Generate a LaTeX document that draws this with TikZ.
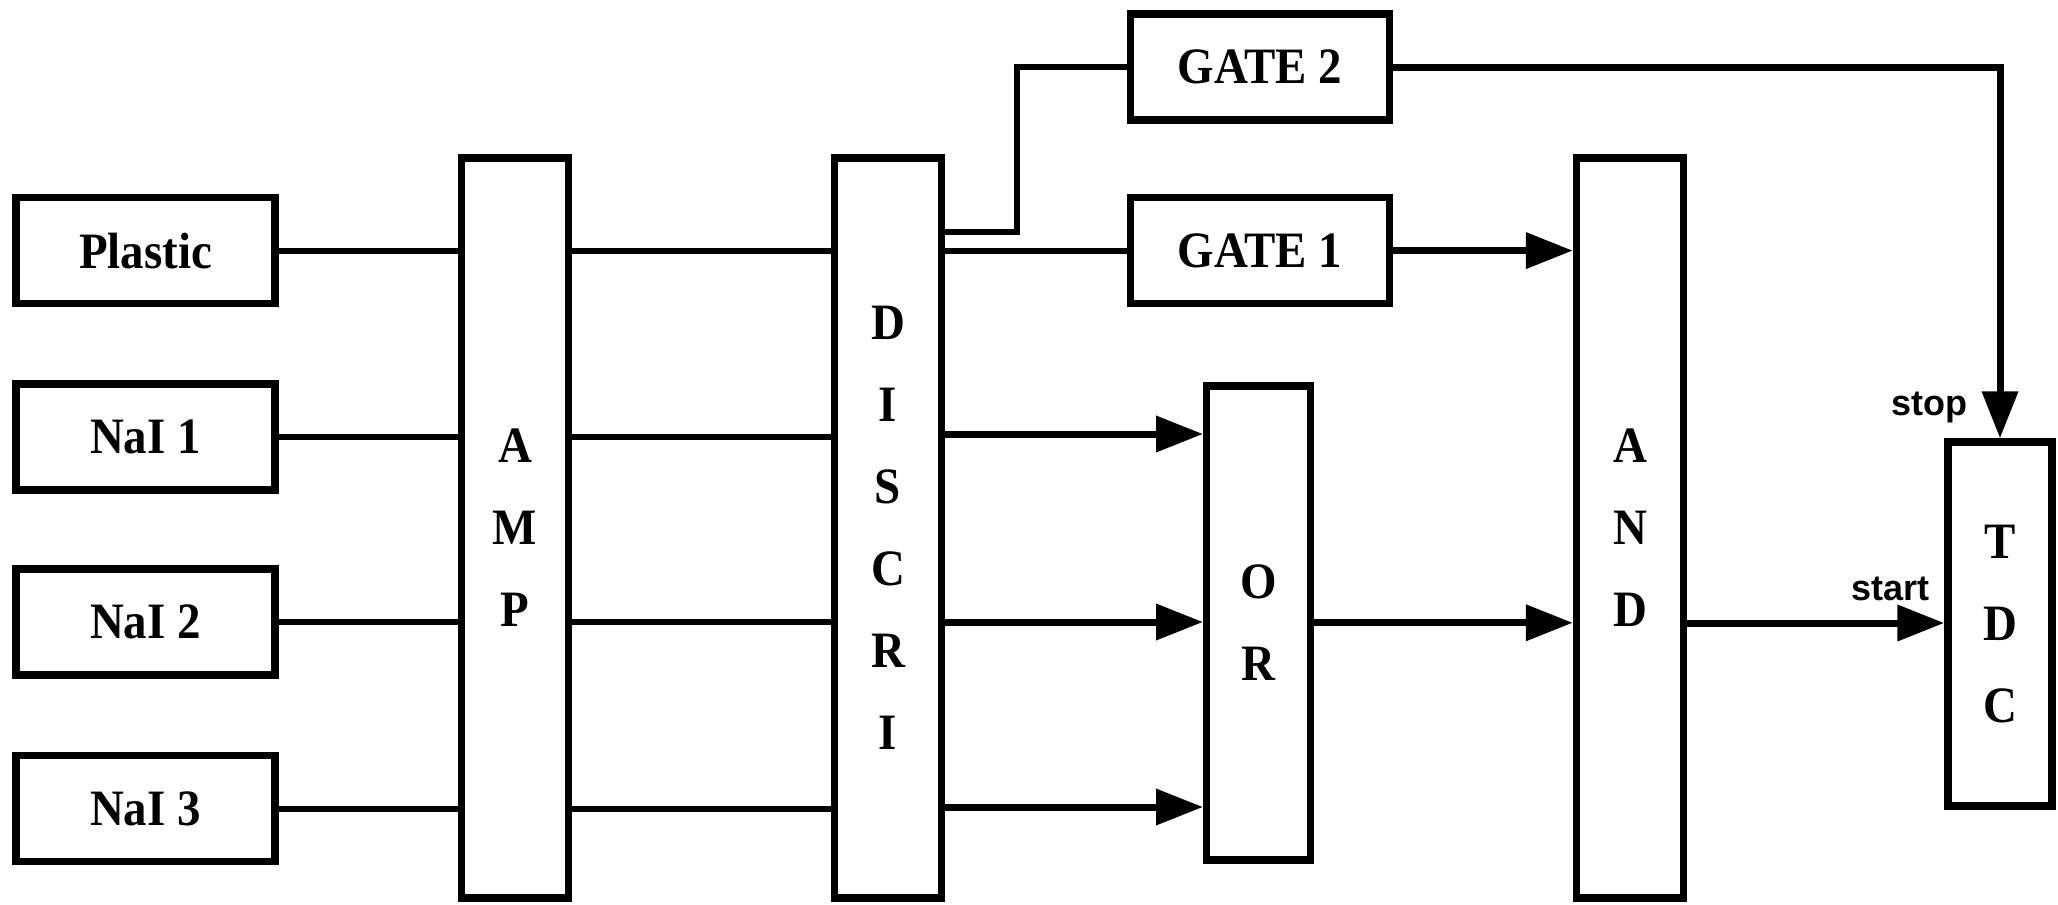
\documentclass[tikz,border=0pt]{standalone}
\usepackage{fontspec}
\setmainfont{Liberation Serif}[FakeStretch=0.92]
\newfontfamily\labelfont{Liberation Sans}
\usetikzlibrary{arrows.meta}
\begin{document}
\begin{tikzpicture}[x=0.5pt,y=-0.5pt,
  blk/.style={draw, line width=3.7pt, inner sep=0pt, align=center,
    font=\fontsize{25.5}{41}\selectfont\bfseries},
  hbox/.style={blk, minimum width=129.5pt, minimum height=53pt},
  vbox/.style={blk, minimum width=53.5pt},
  conn/.style={line width=3pt},
  arr/.style={line width=3.5pt, -{Triangle[length=23.5pt,width=17.5pt]}},
  lbl/.style={font=\labelfont\fontsize{18}{20}\selectfont\bfseries, inner sep=0pt}]
\useasboundingbox (0,0) rectangle (2058,905);
% left detectors
\node[hbox] (plastic) at (145.5,250.6) {Plastic};
\node[hbox] (nai1) at (145.5,437) {NaI 1};
\node[hbox] (nai2) at (145.5,622) {NaI 2};
\node[hbox] (nai3) at (145.5,808.5) {NaI 3};
% vertical modules
\node[vbox, minimum height=370pt] (amp) at (515,528) {A\\M\\P};
\node[vbox, minimum height=370pt] (discri) at (888,528) {D\\I\\S\\C\\R\\I};
\node[vbox, minimum width=52pt, minimum height=237pt] (or) at (1258.7,622.8) {O\\R};
\node[vbox, minimum height=370pt] (and) at (1630,528) {A\\N\\D};
\node[vbox, minimum width=52pt, minimum height=182pt] (tdc) at (2000,624) {T\\D\\C};
% gates
\node[hbox] (gate2) at (1260,67) {GATE 2};
\node[hbox] (gate1) at (1260,250.6) {GATE 1};
% detectors to AMP
\draw[conn] (plastic.east) -- (plastic.east -| amp.west);
\draw[conn] (nai1.east) -- (nai1.east -| amp.west);
\draw[conn] (nai2.east) -- (nai2.east -| amp.west);
\draw[conn] (nai3.east) -- (nai3.east -| amp.west);
% AMP to DISCRI
\draw[conn] (amp.east |- plastic.east) -- (discri.west |- plastic.east);
\draw[conn] (amp.east |- nai1.east) -- (discri.west |- nai1.east);
\draw[conn] (amp.east |- nai2.east) -- (discri.west |- nai2.east);
\draw[conn] (amp.east |- nai3.east) -- (discri.west |- nai3.east);
% DISCRI to gates
\coordinate (bend) at (1017,232);
\draw[conn] (discri.east |- bend) -- (bend) -- (bend |- gate2.west) -- (gate2.west);
\draw[conn] (discri.east |- gate1.west) -- (gate1.west);
% DISCRI to OR
\draw[arr] (discri.east |- 0,434) -- (or.west |- 0,434);
\draw[arr] (discri.east |- 0,622) -- (or.west |- 0,622);
\draw[arr] (discri.east |- 0,807) -- (or.west |- 0,807);
% to AND
\draw[arr] (gate1.east) -- (and.west |- gate1.east);
\draw[arr] (or.east) -- (and.west |- or.east);
% to TDC
\draw[arr] (and.east |- 0,623) -- (tdc.west |- 0,623);
\draw[arr] (gate2.east) -| (tdc.north);
\node[lbl] (stop) at (1929,407) {stop};
\node[lbl] (start) at (1890,589) {start};
\end{tikzpicture}
\end{document}
